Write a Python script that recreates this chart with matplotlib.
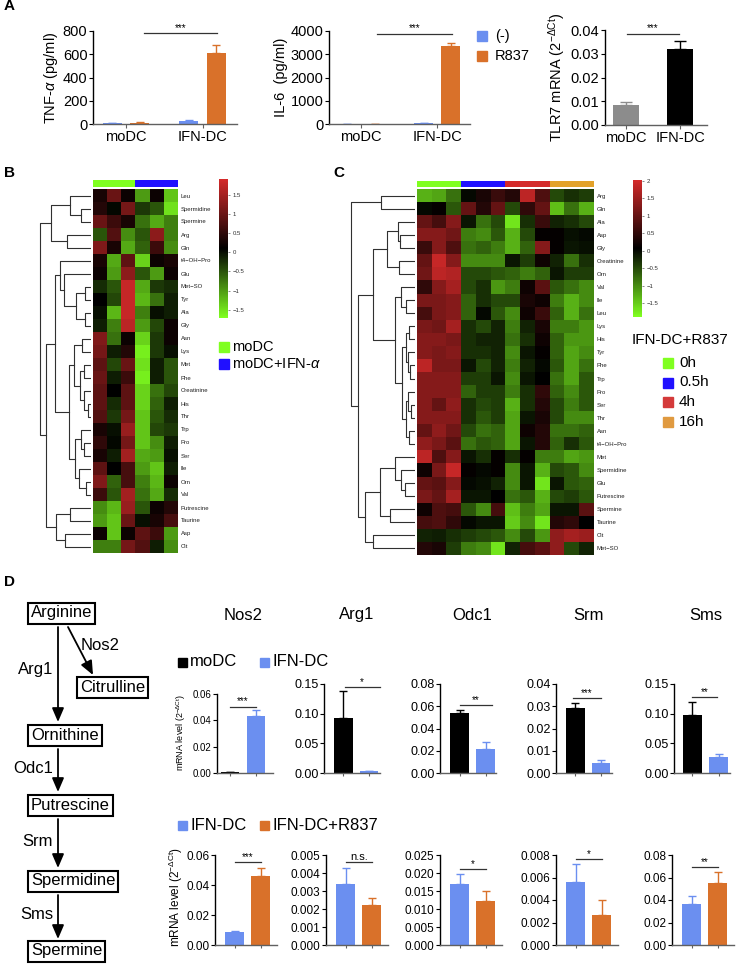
import numpy as np
import matplotlib
matplotlib.use('Agg')
import matplotlib.pyplot as plt
import matplotlib.transforms as mtransforms
from matplotlib.colors import LinearSegmentedColormap, ListedColormap
from matplotlib.patches import Rectangle

plt.rcParams['font.family'] = ['Liberation Sans', 'DejaVu Sans']
plt.rcParams['mathtext.fontset'] = 'custom'
plt.rcParams['mathtext.rm'] = 'Liberation Sans'
plt.rcParams['mathtext.it'] = 'Liberation Sans:italic'

W, H = 736, 973

BLUE = '#6b8ff0'
ORANGE = '#d9712a'
GREY = '#8c8c8c'
HM_GREEN, HM_BLUE, HM_RED, HM_ORANGE = '#80ff20', '#2010ff', '#d42a2a', '#e3a22a'

# ── data: panel A ────────────────────────────────────────────────────
a_groups = ['moDC', 'IFN-DC']
tnf_ctrl, tnf_ctrl_err = [8, 28], [3, 5]
tnf_r837, tnf_r837_err = [12, 615], [5, 65]
il6_ctrl, il6_ctrl_err = [15, 40], [5, 8]
il6_r837, il6_r837_err = [15, 3350], [5, 150]
tlr7, tlr7_err = [0.0083, 0.0318], [0.0015, 0.0035]

# ── data: panel B heatmap ────────────────────────────────────────────
b_rows = ['Leu', 'Spermidine', 'Spermine', 'Arg', 'Gln', 't4−OH−Pro', 'Glu',
          'Met−SO', 'Tyr', 'Ala', 'Gly', 'Asn', 'Lys', 'Met', 'Phe',
          'Creatinine', 'His', 'Thr', 'Trp', 'Pro', 'Ser', 'Ile', 'Orn',
          'Val', 'Putrescine', 'Taurine', 'Asp', 'Cit']
b_vals = [
    [0.3, 1.0, 0.2, -1.0, 0.2, -1.3],
    [0.4, 0.05, 1.1, -0.3, -0.5, -1.5],
    [1.0, 0.6, 0.3, -0.7, -1.1, -0.8],
    [-0.5, 0.8, -0.9, -0.5, 1.3, -0.8],
    [1.2, 0.3, -1.1, -0.6, 0.6, -0.9],
    [0.3, -1.1, 0.9, -1.4, 0.2, 0.3],
    [0.2, -1.0, 1.3, -0.5, -1.0, 0.2],
    [-0.2, -0.5, 1.8, -1.1, -0.3, -0.2],
    [0.1, -0.4, 1.8, -1.2, -0.7, -0.1],
    [0.0, -1.2, 1.8, -0.8, 0.0, -0.1],
    [-0.1, -0.8, 1.7, -1.0, -0.4, 0.2],
    [1.2, -0.7, 0.2, -1.4, -0.3, 0.2],
    [1.1, -0.1, 0.4, -1.6, -0.3, 0.0],
    [0.9, -0.4, 1.0, -1.5, -0.1, -0.5],
    [1.0, -0.1, 0.6, -1.6, -0.1, -0.5],
    [0.9, 0.1, 0.9, -1.4, -0.7, -0.4],
    [0.9, -0.2, 0.9, -1.4, -0.6, -0.1],
    [0.8, -0.3, 1.1, -1.3, -0.5, -0.2],
    [0.3, 0.0, 1.4, -1.3, -0.4, -0.3],
    [0.5, 0.05, 1.1, -1.3, -0.9, -0.1],
    [0.3, -0.1, 1.5, -1.1, -1.0, 0.0],
    [0.9, 0.1, 0.7, -1.0, -1.3, -0.1],
    [1.2, -0.6, 0.7, -0.8, -1.2, 0.2],
    [0.6, -0.5, 1.5, -0.7, -1.1, -0.2],
    [-0.9, -1.2, 1.4, -0.5, 0.2, 0.4],
    [-1.0, -1.3, 1.0, 0.0, 0.3, 0.7],
    [0.2, -1.3, 0.2, 0.9, 0.6, -1.0],
    [-0.8, -0.8, 1.1, 0.8, -0.1, -0.9],
]
b_groups = [0, 0, 0, 1, 1, 1]
# row tree: (left, right, merge height); ints are row indices
b_tree = ((((0, (1, 2, 9), 20), (3, 4, 23), 39)),
          ((((5, (6, ((7, 8, 5), (9, 10, 5), 14), 26), 30),
             (((11, 12, 8), ((13, 14, 6), (15, (16, 17, 2), 6), 10), 16),
              ((18, (19, 20, 6), 9), (21, (22, 23, 4), 11), 15), 21), 35),
            ((24, 25, 20), (26, 27, 25), 34), 44)), 50)

# ── data: panel C heatmap ────────────────────────────────────────────
c_rows = ['Arg', 'Gln', 'Ala', 'Asp', 'Gly', 'Creatinine', 'Orn', 'Val',
          'Ile', 'Leu', 'Lys', 'His', 'Tyr', 'Phe', 'Trp', 'Pro', 'Ser',
          'Thr', 'Asn', 't4−OH−Pro', 'Met', 'Spermidine', 'Glu',
          'Putrescine', 'Spermine', 'Taurine', 'Cit', 'Met−SO']
c_vals = [
    [-1.3, -1.2, -0.8, 0.0, 0.3, 0.6, 0.4, 1.8, 0.8, -0.5, -0.3, -0.4],
    [0.0, 0.1, -0.6, 1.0, 0.4, 1.0, -0.5, 0.5, 1.0, -1.4, -0.8, -1.3],
    [1.0, 0.7, 1.3, -0.1, -0.8, -0.5, -1.7, -0.3, 0.6, -0.2, -0.3, -0.5],
    [1.3, 1.3, 1.1, -0.9, -1.0, -0.6, -1.3, -0.5, 0.1, 0.1, -0.05, 0.0],
    [0.6, 1.3, 0.8, -0.8, -0.7, -0.9, -1.3, -0.7, 1.3, 0.1, -0.1, -0.05],
    [1.0, 1.9, 1.3, -1.0, -1.0, -1.0, -0.1, -0.4, 0.2, -0.2, -0.8, -0.3],
    [1.1, 1.8, 1.7, -0.5, -0.5, -0.6, -0.7, -0.9, -0.7, -0.1, -0.4, -0.4],
    [0.5, 1.3, 1.6, -0.5, -0.3, -1.1, -0.9, 0.2, 0.9, -0.6, -0.8, -1.0],
    [1.2, 1.2, 1.3, -0.7, -0.3, -0.5, -0.5, 0.3, 0.2, -0.9, -1.3, -1.0],
    [0.7, 1.2, 1.3, -0.7, 0.0, -0.6, -1.0, 0.2, 0.6, -0.7, -1.3, -0.8],
    [1.2, 1.1, 1.6, -0.3, -0.5, -0.2, -0.9, -0.2, 0.3, -0.9, -0.9, -1.1],
    [1.3, 1.3, 1.2, -0.3, -0.2, -0.2, -0.8, -0.3, 0.2, -0.7, -1.1, -1.1],
    [1.3, 1.2, 1.3, -0.3, -0.3, -0.2, -1.0, -0.1, 0.1, -0.7, -1.2, -1.0],
    [1.8, 1.2, 1.2, -0.1, -0.5, -0.2, -0.9, -0.2, 0.0, -0.6, -1.2, -0.8],
    [1.3, 1.3, 1.3, -0.4, -0.4, -0.1, -1.0, -0.1, 0.05, -0.8, -1.2, -0.6],
    [1.3, 1.3, 1.3, -0.7, -0.4, -0.4, -0.9, -0.3, 0.5, -0.7, -1.0, -0.6],
    [1.3, 1.0, 1.4, -0.3, -0.5, -0.4, -1.3, -0.3, 0.4, -0.5, -0.9, -0.6],
    [1.3, 1.3, 1.3, -0.3, -0.6, -0.4, -1.2, -0.1, 0.3, -0.5, -1.0, -1.0],
    [1.0, 1.4, 1.1, -0.5, -0.8, -0.7, -1.2, 0.2, 0.4, -0.8, -0.8, -0.7],
    [1.4, 1.2, 0.9, -0.8, -0.6, -0.7, -1.2, -0.1, 0.4, -0.7, -0.3, -0.6],
    [1.8, 0.8, 1.3, -0.1, -0.3, 0.1, -0.3, 0.1, -0.9, -0.9, -1.2, -1.1],
    [0.2, 1.2, 1.9, 0.1, 0.0, 0.1, -1.0, -0.1, -1.3, -0.5, -0.6, -1.0],
    [1.0, 0.9, 1.3, 0.0, -0.05, -0.2, -1.0, -0.1, -1.7, -0.1, -0.6, -0.7],
    [1.2, 1.0, 1.6, -0.1, -0.1, 0.05, -0.8, -0.6, -1.3, -0.5, -0.4, -0.6],
    [0.2, 0.8, 0.7, -0.6, -1.0, 0.7, -1.4, -0.9, -1.2, -0.1, -0.1, 0.9],
    [0.7, 0.8, 0.5, 0.0, -0.1, -0.1, -1.5, -1.0, -1.7, 0.4, 0.5, 0.05],
    [-0.2, -0.15, -0.3, -0.4, -0.5, -0.6, -1.0, -0.5, -1.1, 1.4, 1.6, 1.5],
    [0.4, 0.3, -0.4, -0.9, -1.0, -1.7, -0.2, 0.7, 0.9, 1.4, -0.5, -0.2],
]
c_groups = [0, 0, 0, 1, 1, 1, 2, 2, 2, 3, 3, 3]
c_times = ['0h', '0.5h', '4h', '16h']
c_tree = ((0, 1, 34),
          ((((2, (3, 4, 14), 16), (5, 6, 15), 27),
            ((7, (8, 9, 8), 13),
             (((10, 11, 5), (12, (13, 14, 4), 6), 8),
              ((15, (16, 17, 3), 6), (18, 19, 5), 8), 12), 19), 42),
           (((20, (21, (22, 23, 9), 13), 19), (24, 25, 24), 35),
            (26, 27, 42), 50), 57), 64)

# ── data: panel D qPCR ───────────────────────────────────────────────
genes = ['Nos2', 'Arg1', 'Odc1', 'Srm', 'Sms']
d_modc = [0.0008, 0.093, 0.054, 0.029, 0.098]
d_modc_err = [0.0002, 0.045, 0.003, 0.0025, 0.022]
d_ifn = [0.0435, 0.003, 0.0215, 0.0045, 0.027]
d_ifn_err = [0.004, 0.001, 0.006, 0.0014, 0.005]
d_top_sig = ['***', '*', '**', '***', '**']
d_top_ymax = [0.06, 0.15, 0.08, 0.04, 0.15]
d_top_step = [0.02, 0.05, 0.02, 0.01, 0.05]

d_ifn2 = [0.0085, 0.0034, 0.017, 0.0056, 0.0365]
d_ifn2_err = [0.001, 0.0009, 0.0026, 0.0016, 0.007]
d_r837 = [0.046, 0.0022, 0.0122, 0.0027, 0.0555]
d_r837_err = [0.0055, 0.0004, 0.0027, 0.0013, 0.009]
d_bot_sig = ['***', 'n.s.', '*', '*', '**']
d_bot_ymax = [0.06, 0.005, 0.025, 0.008, 0.08]
d_bot_step = [0.02, 0.001, 0.005, 0.002, 0.02]
d_bot_fmt = ['{x:.2f}', '{x:.3f}', '{x:.3f}', '{x:.3f}', '{x:.2f}']

pathway = ['Arginine', 'Ornithine', 'Putrescine', 'Spermidine', 'Spermine']
enzymes = ['Arg1', 'Odc1', 'Srm', 'Sms']

# ── layout helpers ───────────────────────────────────────────────────
fig = plt.figure(figsize=(W / 100, H / 100), dpi=100)


def box(l, t, r, b):
    return [l / W, 1 - b / H, (r - l) / W, (b - t) / H]


ov = fig.add_axes([0, 0, 1, 1])
ov.set_xlim(0, W)
ov.set_ylim(H, 0)
ov.axis('off')


def style(ax, fs):
    for s in ('top', 'right'):
        ax.spines[s].set_visible(False)
    ax.spines['left'].set_linewidth(1)
    ax.spines['bottom'].set_linewidth(1)
    ax.spines['bottom'].set_color('#606060')
    ax.tick_params(labelsize=fs, length=3, width=0.8, pad=1)
    ax.tick_params(axis='x', colors='#606060', labelcolor='black')


def up_err(ax, x, v, e, col, cap=3):
    ax.errorbar(x, v, yerr=[np.zeros(len(v)), e], fmt='none',
                ecolor=col, elinewidth=1, capsize=cap, capthick=1)


def sig(ax, x0, x1, y, txt, fs=7):
    ax.plot([x0, x1], [y, y], color='#333333', lw=0.9, clip_on=False)
    ax.text((x0 + x1) / 2, y, txt, ha='center', va='bottom', fontsize=fs,
            clip_on=False)


def legend_sq(x, y, col, txt, fs, size=10, gap=4):
    ov.add_patch(Rectangle((x, y - size / 2), size, size, color=col))
    ov.text(x + size + gap, y, txt, fontsize=fs, va='center', ha='left')


# ── 1. Panel A ───────────────────────────────────────────────────────
def grouped(ax, ctrl, ctrl_err, r837, r837_err, ymax, step, xlim):
    x = np.arange(2)
    off, w = 0.18, 0.25
    ax.bar(x - off, ctrl, w, color=BLUE)
    ax.bar(x + off, r837, w, color=ORANGE)
    up_err(ax, x - off, ctrl, ctrl_err, BLUE)
    up_err(ax, x + off, r837, r837_err, ORANGE)
    ax.set_xlim(*xlim)
    ax.set_ylim(0, ymax)
    ax.set_yticks(np.arange(0, ymax + step / 2, step))
    ax.set_xticks(x)
    ax.set_xticklabels(a_groups)
    style(ax, 10.5)


ax1 = fig.add_axes(box(93, 31, 237, 124))
grouped(ax1, tnf_ctrl, tnf_ctrl_err, tnf_r837, tnf_r837_err, 800, 200,
        (-0.43, 1.45))
ax1.set_ylabel('TNF-$\\alpha$ (pg/ml)', fontsize=10.5, labelpad=2)
sig(ax1, 0.23, 1.19, 780, '***')

ax2 = fig.add_axes(box(329, 31, 470, 124))
grouped(ax2, il6_ctrl, il6_ctrl_err, il6_r837, il6_r837_err, 4000, 1000,
        (-0.42, 1.43))
ax2.set_ylabel('IL-6  (pg/ml)', fontsize=10.5, labelpad=2)
sig(ax2, 0.21, 1.2, 3890, '***')

legend_sq(477, 36, BLUE, '(-)', 10.5, size=10, gap=8)
legend_sq(477, 56, ORANGE, 'R837', 10.5, size=10, gap=8)

ax3 = fig.add_axes(box(605, 30, 707, 125))
ax3.bar([0, 1], tlr7, 0.48, color=[GREY, 'black'])
up_err(ax3, [0], tlr7[:1], tlr7_err[:1], GREY, cap=4)
up_err(ax3, [1], tlr7[1:], tlr7_err[1:], 'black', cap=4)
ax3.set_xlim(-0.39, 1.5)
ax3.set_ylim(0, 0.04)
ax3.set_yticks(np.arange(0, 0.041, 0.01))
ax3.yaxis.set_major_formatter('{x:.2f}')
ax3.set_xticks([0, 1])
ax3.set_xticklabels(a_groups)
style(ax3, 10.5)
ax3.set_ylabel('TLR7 mRNA (2$^{\\mathregular{-ΔCt}}$)', fontsize=10.5,
               labelpad=2)
sig(ax3, 0.02, 0.98, 0.0385, '***')

# ── 2. Heatmaps (B, C) ───────────────────────────────────────────────
hm_cmap = LinearSegmentedColormap.from_list(
    'greenred', [HM_GREEN, '#000000', HM_RED])


def dendro(ax, node):
    if isinstance(node, int):
        return node, 0.0
    a, b, h = node
    ya, ha = dendro(ax, a)
    yb, hb = dendro(ax, b)
    ax.plot([ha, h, h, hb], [ya, ya, yb, yb], color='#303030', lw=0.8)
    return (ya + yb) / 2, h


def heatmap(vals, rows, groups, gcolors, tree, hm_box, den_box, hmax,
            col_box, cb_box, vmin, vmax, cb_ticks):
    data = np.array(vals)
    ax = fig.add_axes(box(*hm_box))
    im = ax.imshow(data, cmap=hm_cmap, vmin=vmin, vmax=vmax,
                   aspect='auto', interpolation='nearest')
    ax.set_xticks([])
    ax.set_yticks(range(len(rows)))
    ax.set_yticklabels(rows, fontsize=4.3, color='#202020')
    ax.yaxis.tick_right()
    ax.tick_params(axis='y', length=0, pad=2)
    for s in ax.spines.values():
        s.set_visible(False)

    cax = fig.add_axes(box(*col_box))
    cax.imshow([groups], cmap=ListedColormap(gcolors), aspect='auto',
               interpolation='nearest')
    cax.axis('off')

    dax = fig.add_axes(box(*den_box))
    dendro(dax, tree)
    dax.set_ylim(len(rows) - 0.5, -0.5)
    dax.set_xlim(hmax, -1)
    dax.axis('off')

    kax = fig.add_axes(box(*cb_box))
    cb = fig.colorbar(im, cax=kax, ticks=cb_ticks)
    cb.outline.set_visible(False)
    cb.ax.set_yticklabels([('%g' % t).replace('-', '−') for t in cb_ticks])
    cb.ax.tick_params(labelsize=4.3, length=1.5, width=0.4, pad=2,
                      colors='#303030')


ov.text(4, 173, 'B', fontsize=11, fontweight='bold', va='center')
heatmap(b_vals, b_rows, b_groups, [HM_GREEN, HM_BLUE], b_tree,
        (93, 189, 178, 553), (38, 189, 91, 553), 52,
        (93, 180, 178, 187), (219, 179, 228, 318), -1.72, 1.92,
        [-1.5, -1, -0.5, 0, 0.5, 1, 1.5])
legend_sq(219, 347, HM_GREEN, 'moDC', 10.5, size=10, gap=3)
legend_sq(219, 364, HM_BLUE, 'moDC+IFN-$\\alpha$', 10.5, size=10, gap=3)

ov.text(333, 173, 'C', fontsize=11, fontweight='bold', va='center')
heatmap(c_vals, c_rows, c_groups, [HM_GREEN, HM_BLUE, HM_RED, HM_ORANGE],
        c_tree, (417, 189, 594, 555), (350, 189, 415, 555), 65,
        (417, 181, 594, 187), (633, 180, 642, 317), -1.9, 2.03,
        [-1.5, -1, -0.5, 0, 0.5, 1, 1.5, 2])
ov.text(632, 340, 'IFN-DC+R837', fontsize=11, va='center')
for i, (t, col) in enumerate(zip(c_times, [HM_GREEN, HM_BLUE, '#d43a3a',
                                           '#e09a40'])):
    legend_sq(663, 363 + 19.5 * i, col, t, 11, size=10, gap=6)

# ── 3. Panel D ───────────────────────────────────────────────────────
ov.text(4, 582, 'D', fontsize=11, fontweight='bold', va='center')

# pathway scheme
bx_kw = dict(boxstyle='square,pad=0.18', fc='white', ec='black', lw=1.5)
path_y = [613, 735, 805, 881, 951]
for name, y in zip(pathway, path_y):
    ov.text(31, y, name, fontsize=12, ha='left', va='center', bbox=bx_kw)
ov.text(80, 687, 'Citrulline', fontsize=12, ha='left', va='center',
        bbox=bx_kw)
arrow_kw = dict(arrowstyle='-|>,head_length=0.7,head_width=0.3', lw=1.3,
                color='black', shrinkA=0, shrinkB=0, mutation_scale=12)
arrow_ends = [(627, 722), (749, 792), (819, 868), (895, 939)]
for (y0, y1), enz in zip(arrow_ends, enzymes):
    ov.annotate('', xy=(58, y1), xytext=(58, y0), arrowprops=arrow_kw)
    ov.text(53, y0 + 0.45 * (y1 - y0), enz, fontsize=12, ha='right',
            va='center')
ov.annotate('', xy=(93, 675), xytext=(68, 627), arrowprops=arrow_kw)
ov.text(81, 645, 'Nos2', fontsize=12, ha='left', va='center')

legend_sq(178, 662, 'black', 'moDC', 12, size=9, gap=3)
legend_sq(260, 662, BLUE, 'IFN-DC', 12, size=9, gap=3)
legend_sq(178, 825, BLUE, 'IFN-DC', 12, size=9, gap=3)
legend_sq(260, 825, ORANGE, 'IFN-DC+R837', 12, size=9, gap=3)

top_left = [217, 324, 440, 556, 674]
bot_left = [215, 326, 440, 556, 672]
top_xlim = [(-0.5, 1.65), (-0.76, 1.43), (-0.75, 1.4), (-0.76, 1.43),
            (-0.69, 1.42)]
top_sig_span = [(0, 1), (0.05, 1.42), (0.02, 1.24), (-0.1, 1.0), (0, 0.92)]


def pair(ax, v0, e0, c0, v1, e1, c1, ymax, step, fmt, fs):
    ax.bar([0, 1], [v0, v1], 0.72, color=[c0, c1])
    up_err(ax, [0], [v0], [e0], c0)
    up_err(ax, [1], [v1], [e1], c1)
    ax.set_ylim(0, ymax)
    ax.set_yticks(np.arange(0, ymax + step / 2, step))
    ax.yaxis.set_major_formatter(fmt)
    ax.set_xticks([0, 1])
    ax.set_xticklabels([])
    style(ax, fs)
    ax.tick_params(axis='x', length=2.5)


for i, g in enumerate(genes):
    top = 694 if i == 0 else 684
    fs = 7 if i == 0 else 9
    axt = fig.add_axes(box(top_left[i], top, top_left[i] + 56, 773))
    pair(axt, d_modc[i], d_modc_err[i], 'black', d_ifn[i], d_ifn_err[i],
         BLUE, d_top_ymax[i], d_top_step[i], '{x:.2f}', fs)
    axt.set_xlim(*top_xlim[i])
    hi = max(d_modc[i] + d_modc_err[i], d_ifn[i] + d_ifn_err[i])
    sig(axt, *top_sig_span[i], hi + 0.05 * d_top_ymax[i], d_top_sig[i])
    tr = mtransforms.blended_transform_factory(axt.transData, ov.transData)
    axt.text(0.5, 615, g, transform=tr, fontsize=12, ha='center',
             va='center', clip_on=False)

    axb = fig.add_axes(box(bot_left[i], 855, bot_left[i] + 62, 945))
    pair(axb, d_ifn2[i], d_ifn2_err[i], BLUE, d_r837[i], d_r837_err[i],
         ORANGE, d_bot_ymax[i], d_bot_step[i], d_bot_fmt[i], 8.5)
    axb.set_xlim(-0.75, 1.62)
    hi = max(d_ifn2[i] + d_ifn2_err[i], d_r837[i] + d_r837_err[i])
    sig(axb, 0, 1, hi + 0.06 * d_bot_ymax[i], d_bot_sig[i],
        fs=8 if d_bot_sig[i] == 'n.s.' else 7)

ov.text(181, 733, 'mRNA level (2$^{\\mathregular{-ΔCt}}$)', fontsize=6.5,
        rotation=90, ha='center', va='center')
ov.text(176, 897, 'mRNA level (2$^{\\mathregular{-ΔCt}}$)', fontsize=8.5,
        rotation=90, ha='center', va='center')

ov.text(4, 6, 'A', fontsize=11, fontweight='bold', va='center')

fig.savefig('out.png', dpi=100)
